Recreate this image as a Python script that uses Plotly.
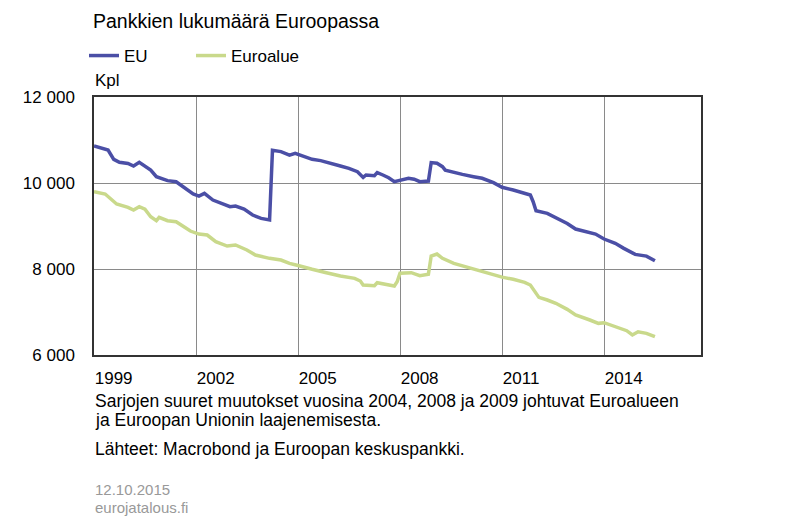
import plotly.graph_objects as go

eu_dates = ["1999-01","1999-06","1999-08","1999-10","2000-01","2000-03","2000-05","2000-06","2000-09","2000-11",
            "2001-03","2001-06","2001-09","2001-12","2002-02","2002-04","2002-07","2002-11","2003-01","2003-03",
            "2003-06","2003-09","2003-12","2004-03","2004-04","2004-07","2004-10","2004-12","2005-03","2005-06",
            "2005-09","2005-12","2006-04","2006-07","2006-10","2006-12","2007-01","2007-04","2007-05","2007-07",
            "2007-09","2007-11","2008-02","2008-04","2008-06","2008-08","2008-11","2008-12","2009-02","2009-04",
            "2009-05","2009-09","2009-11","2010-03","2010-06","2010-10","2011-01","2011-05","2011-08","2011-11",
            "2011-12","2012-01","2012-05","2012-08","2012-12","2013-03","2013-07","2013-10","2014-01","2014-05",
            "2014-08","2014-12","2015-04","2015-07"]
eu_values = [10860,10767,10550,10480,10455,10395,10480,10435,10300,10147,
             10055,10030,9876,9744,9697,9760,9604,9488,9450,9465,
             9395,9255,9178,9140,10760,10730,10650,10690,10613,10550,
             10520,10458,10395,10340,10263,10130,10186,10170,10240,10186,
             10123,10030,10070,10110,10088,10030,10046,10475,10458,10380,
             10300,10225,10200,10147,10110,10007,9900,9837,9783,9720,
             9565,9356,9295,9200,9060,8930,8867,8813,8697,8597,
             8480,8340,8300,8190]

ea_dates = ["1999-01","1999-05","1999-09","2000-01","2000-03","2000-05","2000-07","2000-09","2000-11","2000-12",
            "2001-03","2001-06","2001-09","2001-11","2002-02","2002-05","2002-08","2002-12","2003-03","2003-07",
            "2003-10","2004-03","2004-07","2004-10","2005-01","2005-03","2005-06","2005-11","2006-04","2006-09",
            "2006-11","2006-12","2007-04","2007-05","2007-09","2007-11","2007-12","2008-01","2008-05","2008-08",
            "2008-11","2008-12","2009-02","2009-04","2009-08","2009-11","2010-04","2010-09","2011-01","2011-05",
            "2011-09","2011-11","2012-02","2012-05","2012-08","2012-12","2013-03","2013-08","2013-11","2014-01",
            "2014-05","2014-09","2014-11","2015-01","2015-04","2015-07"]
ea_values = [9800,9744,9512,9435,9372,9450,9390,9216,9123,9202,
             9123,9100,8970,8883,8813,8790,8634,8534,8558,8442,
             8325,8248,8209,8132,8080,8054,7993,7914,7837,7783,
             7720,7627,7612,7681,7643,7604,7704,7900,7914,7844,
             7876,8300,8348,8248,8132,8077,7977,7883,7810,7760,
             7690,7627,7340,7279,7202,7062,6930,6814,6736,6751,
             6658,6565,6465,6541,6503,6425]

x_tick_vals = ["1999-01-01","2002-01-01","2005-01-01","2008-01-01","2011-01-01","2014-01-01"]
x_tick_text = ["1999","2002","2005","2008","2011","2014"]
y_tick_vals = [6000, 8000, 10000, 12000]
y_tick_text = ["6 000", "8 000", "10 000", "12 000"]

FONT = "Liberation Sans, Arial, sans-serif"

fig = go.Figure()
fig.add_trace(go.Scatter(x=eu_dates, y=eu_values, mode="lines", name="EU", legend="legend",
                         line=dict(color="#4B4FA6", width=3.5)))
fig.add_trace(go.Scatter(x=ea_dates, y=ea_values, mode="lines", name="Euroalue", legend="legend2",
                         line=dict(color="#C9D98B", width=3.5)))

legend_common = dict(orientation="h", xanchor="left", y=1+(97-56)/258, yanchor="middle",
                     font=dict(size=17, family=FONT), itemwidth=30,
                     bgcolor="rgba(0,0,0,0)")

fig.update_layout(
    width=800, height=523,
    margin=dict(l=94, r=99, t=97, b=168),
    paper_bgcolor="white", plot_bgcolor="white",
    font=dict(family=FONT, size=17, color="#000"),
    title=dict(text="Pankkien lukumäärä Euroopassa", x=93/800, xref="container", xanchor="left",
               y=1-21/523, yref="container", yanchor="middle",
               font=dict(size=19.5, family=FONT, color="#000")),
    legend=dict(x=-10/607, **legend_common),
    legend2=dict(x=(191-94)/607, **legend_common),
    showlegend=True,
    hovermode=False,
    xaxis=dict(type="date", range=["1999-01-01", "2016-11-07"],
               tickvals=x_tick_vals, ticktext=x_tick_text,
               ticklabelposition="outside right", ticks="", ticklabelstandoff=7,
               showgrid=True, gridcolor="#8a8a8a", gridwidth=1,
               showline=True, linecolor="#333", linewidth=1.5, mirror=True,
               tickfont=dict(size=17, family=FONT), zeroline=False),
    yaxis=dict(range=[6000, 12000], tickvals=y_tick_vals, ticktext=y_tick_text,
               ticks="", ticklabelstandoff=14,
               showgrid=True, gridcolor="#8a8a8a", gridwidth=1,
               showline=True, linecolor="#333", linewidth=1.5, mirror=True,
               tickfont=dict(size=17, family=FONT), zeroline=False),
)

def note(text, ypix, color="#000", size=17.5):
    fig.add_annotation(text=text, xref="paper", yref="paper", x=-1/607, xanchor="left",
                       y=(355 - ypix) / 258, yanchor="middle", showarrow=False,
                       font=dict(size=size, family=FONT, color=color), align="left")

note("Kpl", 80, size=17)
note("Sarjojen suuret muutokset vuosina 2004, 2008 ja 2009 johtuvat Euroalueen", 401)
note("ja Euroopan Unionin laajenemisesta.", 420)
note("Lähteet: Macrobond ja Euroopan keskuspankki.", 449)
note("12.10.2015", 489, color="#999999", size=15)
note("eurojatalous.fi", 507, color="#999999", size=15)

fig.write_html("out.html", config={"displayModeBar": False},
               post_script="document.body.style.margin='0';")
